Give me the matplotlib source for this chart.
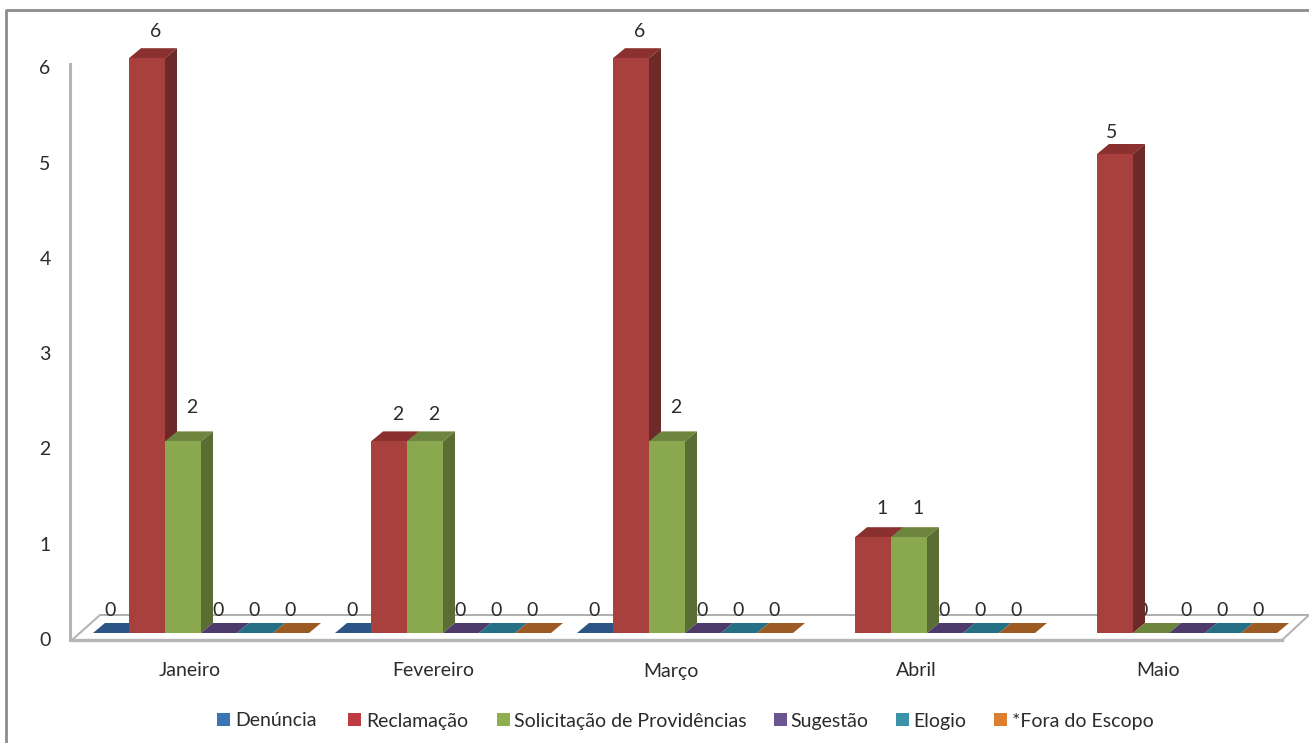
import numpy as np
from matplotlib import pyplot as plt
from matplotlib.patches import Polygon, Rectangle

plt.rcParams['font.family'] = ['Lato', 'DejaVu Sans']

months = ['Janeiro', 'Fevereiro', 'Março', 'Abril', 'Maio']
series_names = ['Denúncia', 'Reclamação', 'Solicitação de Providências', 'Sugestão', 'Elogio', '*Fora do Escopo']
y_ticks = [0, 1, 2, 3, 4, 5, 6]

# nan = no value for that month, nothing gets drawn
denuncia = [0, 0, 0, np.nan, np.nan]
reclamacao = [6, 2, 6, 1, 5]
solicitacao = [2, 2, 2, 1, 0]
sugestao = [0, 0, 0, 0, 0]
elogio = [0, 0, 0, 0, 0]
fora_escopo = [0, 0, 0, 0, 0]
all_series = [denuncia, reclamacao, solicitacao, sugestao, elogio, fora_escopo]

front_colors = ['#2f6096', '#a8413e', '#8aa84e', '#5f4882', '#2f87a0', '#bd6f2c']
top_colors = ['#2a5585', '#8a302e', '#6d853d', '#4e3b6c', '#267085', '#9c5b22']
side_colors = ['#234870', '#6d2a28', '#5a6d33', '#3f3058', '#1f5c6e', '#7f4a1c']
legend_colors = ['#3b76b4', '#bd3a40', '#8fae50', '#6a5590', '#3a93a8', '#dd7f30']

W, H = 1309, 743
PX_PER_UNIT = 95.8
GROUP_PX = 242.0
BAR_W = 36 / GROUP_PX
DX = 12 / GROUP_PX
DY = 10 / PX_PER_UNIT
TEXT_COLOR = '#2b2b2b'
FONT_SIZE = 14


def px_x(px):
    return (px - 201) / GROUP_PX


def px_y(py):
    return (633 - py) / PX_PER_UNIT


def draw_bar(ax, x, value, k):
    # front, top and right side of a fake 3d column
    ax.add_patch(Polygon([(x, value), (x + BAR_W, value), (x + BAR_W + DX, value + DY), (x + DX, value + DY)],
                         fc=top_colors[k], ec='none', zorder=4 + k * 0.1))
    if value > 0:
        ax.add_patch(Rectangle((x, 0), BAR_W, value, fc=front_colors[k], ec='none', zorder=4 + k * 0.1))
        ax.add_patch(Polygon([(x + BAR_W, 0), (x + BAR_W + DX, DY), (x + BAR_W + DX, value + DY), (x + BAR_W, value)],
                             fc=side_colors[k], ec='none', zorder=4 + k * 0.1))


fig = plt.figure(figsize=(W / 100, H / 100), dpi=100)
ax = fig.add_axes([0, 0, 1, 1])
ax.set_xlim(px_x(0), px_x(W))
ax.set_ylim(px_y(H), px_y(0))
ax.axis('off')

# outer frame of the chart
frame = '#8c8c8c'
ax.plot([px_x(6), px_x(6), px_x(W)], [px_y(H), px_y(10), px_y(10)], color=frame, lw=2, zorder=1)

# wall and floor
axis_c = '#b5b5b5'
ax.plot([px_x(70), px_x(70)], [px_y(640), px_y(64)], color=axis_c, lw=2.2, zorder=2)
ax.plot([px_x(100), px_x(W)], [px_y(615), px_y(615)], color='#a8a8a8', lw=1.3, zorder=2)
ax.plot([px_x(72), px_x(100)], [px_y(640), px_y(615)], color=axis_c, lw=1.5, zorder=2)
ax.plot([px_x(1282), px_x(W)], [px_y(640), px_y(615)], color=axis_c, lw=1.5, zorder=2)
ax.plot([px_x(72), px_x(1282)], [px_y(640), px_y(640)], color=axis_c, lw=2.4, zorder=2)

x_groups = np.arange(len(months))
for k, values in enumerate(all_series):
    left = x_groups + (k - 3) * BAR_W
    for i, (x, v) in enumerate(zip(left, values)):
        if np.isnan(v):
            continue
        draw_bar(ax, x, v, k)
        # data labels sit over the back right of the column
        lx, ly, z = x + 27 / GROUP_PX, v + 27 / PX_PER_UNIT, 8
        if v == 0:
            # zero labels go behind the columns, the neighbour hides part of them
            lx, ly, z = x + 17 / GROUP_PX, 23 / PX_PER_UNIT, 3
            if k == 2:
                lx = x + 9 / GROUP_PX
        elif v == 5:
            lx, ly = x + 15 / GROUP_PX, v + 21 / PX_PER_UNIT
        elif k == 2 and i in (0, 2):
            ly = v + 34 / PX_PER_UNIT
        elif v == 1:
            ly = v + 29 / PX_PER_UNIT
        ax.text(lx, ly, '%d' % v, ha='center', va='center', fontsize=FONT_SIZE, color=TEXT_COLOR, zorder=z)

# y ticks sit a bit lower than the bar scale because of the depth
for v in y_ticks:
    ax.text(px_x(45), px_y(640.5 - 95.3 * v), str(v), ha='center', va='center', fontsize=FONT_SIZE, color=TEXT_COLOR)

month_shift = [-11, -10, -14, -11, -11]
for i, name in enumerate(months):
    ax.text(i + month_shift[i] / GROUP_PX, px_y(671), name, ha='center', va='center',
            fontsize=FONT_SIZE, color=TEXT_COLOR)

# legend
legend_box_x = [217, 348, 497, 774, 896, 994]
legend_text_x = [235, 366, 514, 790, 913, 1012]
for k, name in enumerate(series_names):
    ax.add_patch(Rectangle((px_x(legend_box_x[k]), px_y(726)), 13 / GROUP_PX, 13 / PX_PER_UNIT,
                           fc=legend_colors[k], ec='none'))
    ax.text(px_x(legend_text_x[k]), px_y(721), name, ha='left', va='center', fontsize=FONT_SIZE, color=TEXT_COLOR)

fig.savefig('out.png', dpi=100)
